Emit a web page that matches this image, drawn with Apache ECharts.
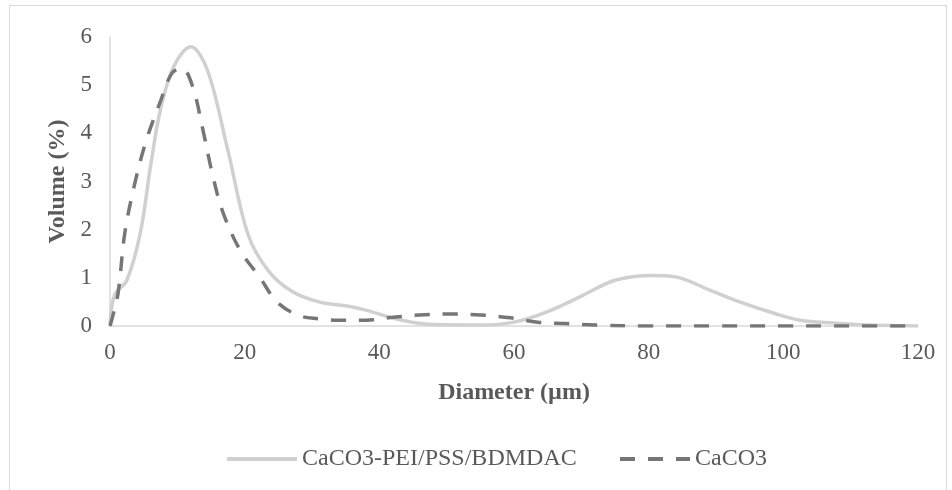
<!DOCTYPE html>
<html>
<head>
<meta charset="utf-8">
<script src="https://cdn.jsdelivr.net/npm/echarts@6/dist/echarts.min.js"></script>
<style>html,body{margin:0;padding:0;background:#fff}#c{width:952px;height:490px}</style>
</head>
<body>
<div id="c"></div>
<script>
const xTicks = [0, 20, 40, 60, 80, 100, 120];
const yTicks = [0, 1, 2, 3, 4, 5, 6];
const seriesNames = ['CaCO3-PEI/PSS/BDMDAC', 'CaCO3'];
const coatedDiameter = [0, 0.7, 2.5, 4.5, 6, 7.5, 9.5, 12, 14.5, 17.5, 20.5, 23.5, 27, 31, 35, 38, 43, 48, 55, 60, 65, 70, 75, 80.5, 84, 89, 93.5, 98.5, 102.5, 107.5, 112.5, 120];
const coatedVolume = [0.05, 0.65, 0.95, 1.93, 3.3, 4.5, 5.4, 5.8, 5.3, 3.65, 1.9, 1.15, 0.72, 0.5, 0.42, 0.33, 0.13, 0.03, 0.02, 0.08, 0.3, 0.62, 0.95, 1.05, 1.02, 0.75, 0.5, 0.27, 0.12, 0.06, 0.02, 0];
const caco3Diameter = [0, 0.4, 1.2, 2.2, 3.7, 5.4, 7.4, 9.2, 10.7, 12.3, 13.8, 15.3, 16.8, 19.3, 22.3, 24.8, 28, 31, 34, 38, 42, 46, 50.5, 55, 59.5, 63.5, 67.5, 72, 80, 90, 100, 110, 120];
const caco3Volume = [0, 0.2, 0.68, 1.93, 2.97, 3.86, 4.63, 5.25, 5.35, 4.96, 4.07, 3.1, 2.35, 1.58, 1.0, 0.5, 0.22, 0.15, 0.12, 0.12, 0.18, 0.23, 0.25, 0.23, 0.17, 0.08, 0.05, 0.02, 0, 0, 0, 0, 0];

const pair = (xs, ys) => xs.map((x, i) => [x, ys[i]]);
const font = "'Liberation Serif', 'Times New Roman', serif";
const txt = '#595959';
const chart = echarts.init(document.getElementById('c'), null, {renderer: 'canvas'});
chart.setOption({
  backgroundColor: '#fff',
  animation: false,
  graphic: [{type: 'rect', shape: {x: 9.5, y: 5.5, width: 937, height: 500}, style: {fill: 'none', stroke: '#d9d9d9', lineWidth: 1}, silent: true}],
  grid: {left: 110, right: 34, top: 37, bottom: 164},
  xAxis: {
    type: 'value', min: xTicks[0], max: xTicks[xTicks.length - 1], interval: 20,
    name: 'Diameter (µm)', nameLocation: 'middle', nameGap: 55,
    nameTextStyle: {fontFamily: font, fontSize: 24, fontWeight: 'bold', color: txt},
    axisLine: {show: true, lineStyle: {color: '#d9d9d9', width: 1.5}},
    axisTick: {show: false}, splitLine: {show: false},
    axisLabel: {fontFamily: font, fontSize: 23, color: txt, margin: 15}
  },
  yAxis: {
    type: 'value', min: yTicks[0], max: yTicks[yTicks.length - 1], interval: 1,
    name: 'Volume (%)', nameLocation: 'middle', nameGap: 38,
    nameTextStyle: {fontFamily: font, fontSize: 24, fontWeight: 'bold', color: txt},
    axisLine: {show: true, lineStyle: {color: '#d9d9d9', width: 1.5}},
    axisTick: {show: false}, splitLine: {show: false},
    axisLabel: {fontFamily: font, fontSize: 23, color: txt, margin: 18}
  },
  legend: [
    {data: [seriesNames[0]], left: 220, top: 442, itemWidth: 70, itemHeight: 12, itemGap: 0,
     itemStyle: {opacity: 0}, lineStyle: {width: 4}, textStyle: {fontFamily: font, fontSize: 24, color: txt}},
    {data: [seriesNames[1]], left: 613, top: 442, itemWidth: 70, itemHeight: 12, itemGap: 0,
     itemStyle: {opacity: 0}, lineStyle: {width: 4}, textStyle: {fontFamily: font, fontSize: 24, color: txt}}
  ],
  series: [
    {name: seriesNames[0], type: 'line', data: pair(coatedDiameter, coatedVolume), smooth: 0.35, symbol: 'none',
     lineStyle: {color: '#d0d0d0', width: 3.5}, itemStyle: {color: '#d0d0d0'}},
    {name: seriesNames[1], type: 'line', data: pair(caco3Diameter, caco3Volume), smooth: 0.35, symbol: 'none',
     lineStyle: {color: '#767676', width: 3.5, type: [15, 13]}, itemStyle: {color: '#767676'}}
  ]
});
</script>
</body>
</html>
